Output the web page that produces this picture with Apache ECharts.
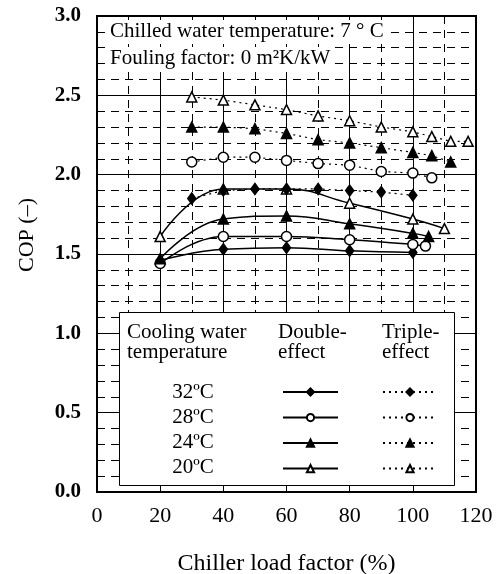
<!DOCTYPE html>
<html><head><meta charset="utf-8">
<script src="https://cdn.jsdelivr.net/npm/echarts@6/dist/echarts.min.js"></script>
<style>html,body{margin:0;padding:0;background:#fff}#c{width:500px;height:574px}</style>
</head><body><div id="c"></div>
<script>
// ---- data ----
const temps = ['32ºC', '28ºC', '24ºC', '20ºC'];
const xTicks = [0, 20, 40, 60, 80, 100, 120];
const yTicks = [0, 0.5, 1.0, 1.5, 2.0, 2.5, 3.0];

// Double-effect (solid, smoothed)
const dbl32 = [[20, 1.46], [40, 1.53], [60, 1.54], [80, 1.52], [100, 1.51]];
const dbl28 = [[20, 1.44], [40, 1.61], [60, 1.61], [80, 1.59], [100, 1.56], [104, 1.55]];
const dbl24 = [[20, 1.47], [40, 1.72], [60, 1.74], [80, 1.69], [100, 1.63], [105, 1.61]];
const dbl20 = [[20, 1.61], [40, 1.91], [60, 1.91], [80, 1.82], [100, 1.72], [110, 1.66]];

// Triple-effect (dotted)
const tri32 = [[30, 1.85], [40, 1.90], [50, 1.91], [60, 1.91], [70, 1.91], [80, 1.90], [90, 1.89], [100, 1.87]];
const tri28 = [[30, 2.08], [40, 2.11], [50, 2.11], [60, 2.09], [70, 2.07], [80, 2.06], [90, 2.02], [100, 2.01], [106, 1.98]];
const tri24 = [[30, 2.30], [40, 2.30], [50, 2.29], [60, 2.26], [70, 2.22], [80, 2.20], [90, 2.17], [100, 2.14], [106, 2.12], [112, 2.08]];
const tri20 = [[30, 2.49], [40, 2.47], [50, 2.44], [60, 2.41], [70, 2.37], [80, 2.34], [90, 2.30], [100, 2.27], [106, 2.24], [112, 2.21], [117.5, 2.21]];

const SERIF = '"Liberation Serif", "DejaVu Serif", serif';

const symbols = {
  '32': {symbol: 'diamond', symbolSize: [8, 11], fill: '#000'},
  '28': {symbol: 'circle', symbolSize: 10, fill: '#fff'},
  '24': {symbol: 'triangle', symbolSize: 10, fill: '#000'},
  '20': {symbol: 'triangle', symbolSize: 10, fill: '#fff'}
};

function mk(name, data, key, dotted) {
  const s = symbols[key];
  return {
    name: name, type: 'line', data: data,
    smooth: dotted ? false : 0.45,
    symbol: s.symbol, symbolSize: s.symbolSize,
    itemStyle: {color: s.fill, borderColor: '#000', borderWidth: 1.5},
    lineStyle: dotted ? {color: '#000', width: 1.2, type: [2, 4]} : {color: '#000', width: 1.5},
    showAllSymbol: true, z: 2, animation: false
  };
}

const series = [
  mk('D32', dbl32, '32', false), mk('D28', dbl28, '28', false),
  mk('D24', dbl24, '24', false), mk('D20', dbl20, '20', false),
  mk('T32', tri32, '32', true), mk('T28', tri28, '28', true),
  mk('T24', tri24, '24', true), mk('T20', tri20, '20', true)
];

const chart = echarts.init(document.getElementById('c'), null, {renderer: 'canvas'});

const legendBase = {
  orient: 'vertical', padding: 0, itemHeight: 9, itemGap: 16.3,
  formatter: function () { return ''; }, selectedMode: false,
  textStyle: {fontSize: 1}, z: 6
};

const FONT = '21px ' + SERIF;
const graphics = [
  {type: 'rect', left: 119, top: 312, shape: {width: 335, height: 173},
   style: {fill: '#fff', stroke: '#000', lineWidth: 1}, z: 4},
  {type: 'text', left: 127, top: 322, z: 7,
   style: {text: 'Cooling water\ntemperature', font: FONT, fill: '#000', lineHeight: 20}},
  {type: 'text', left: 278, top: 322, z: 7,
   style: {text: 'Double-\neffect', font: FONT, fill: '#000', lineHeight: 20}},
  {type: 'text', left: 382, top: 322, z: 7,
   style: {text: 'Triple-\neffect', font: FONT, fill: '#000', lineHeight: 20}},
  {type: 'text', left: 108, top: 20, z: 7,
   style: {text: 'Chilled water temperature: 7 ° C', font: FONT, fill: '#000',
     backgroundColor: '#fff', padding: [1, 2, 2, 2]}},
  {type: 'text', left: 108, top: 47, z: 7,
   style: {text: 'Fouling factor: 0 m²K/kW', font: FONT, fill: '#000',
     backgroundColor: '#fff', padding: [1, 2, 3, 2]}},
  {type: 'text', x: 27, y: 235, rotation: Math.PI / 2, z: 7,
   style: {text: 'COP (–)', font: '22px ' + SERIF, fill: '#000', align: 'center', verticalAlign: 'middle'}}
];
temps.forEach(function (t, i) {
  graphics.push({type: 'text', x: 193, y: 392 + i * 25.3, z: 7,
    style: {text: t, font: FONT, fill: '#000', align: 'center', verticalAlign: 'middle'}});
});

chart.setOption({
  animation: false,
  backgroundColor: '#fff',
  grid: {left: 97, right: 24, top: 16, bottom: 82, outerBoundsMode: 'none', containLabel: false,
    show: true, borderColor: '#000', borderWidth: 2, backgroundColor: 'transparent'},
  xAxis: {
    type: 'value', min: xTicks[0], max: xTicks[xTicks.length - 1], interval: 20,
    name: 'Chiller load factor (%)', nameLocation: 'middle', nameGap: 60,
    nameTextStyle: {fontFamily: SERIF, fontSize: 24, color: '#000'},
    axisLine: {show: true, lineStyle: {color: '#000', width: 2}},
    axisTick: {show: true, inside: true, length: 5, lineStyle: {color: '#000'}},
    axisLabel: {fontFamily: SERIF, fontSize: 22, color: '#000', margin: 13},
    splitLine: {show: true, lineStyle: {color: '#000', width: 1}},
    minorTick: {show: false, splitNumber: 2},
    minorSplitLine: {show: true, lineStyle: {color: '#000', width: 1, type: [8, 6]}}
  },
  yAxis: {
    type: 'value', min: yTicks[0], max: yTicks[yTicks.length - 1], interval: 0.5,
    axisLine: {show: true, lineStyle: {color: '#000', width: 2}},
    axisTick: {show: false},
    axisLabel: {fontFamily: SERIF, fontSize: 21, fontWeight: 'bold', color: '#000', margin: 16,
      padding: [3, 0, 0, 0],
      formatter: function (v) { return v.toFixed(1); }},
    splitLine: {show: true, lineStyle: {color: '#000', width: 1}},
    minorTick: {show: false, splitNumber: 5},
    minorSplitLine: {show: true, lineStyle: {color: '#000', width: 1, type: [8, 6]}}
  },
  legend: [
    Object.assign({}, legendBase, {left: 282, top: 387.5, itemWidth: 55, data: ['D32', 'D28', 'D24', 'D20']}),
    Object.assign({}, legendBase, {left: 382, top: 387.5, itemWidth: 54, data: ['T32', 'T28', 'T24', 'T20']})
  ],
  graphic: {elements: graphics},
  series: series
});
</script></body></html>
